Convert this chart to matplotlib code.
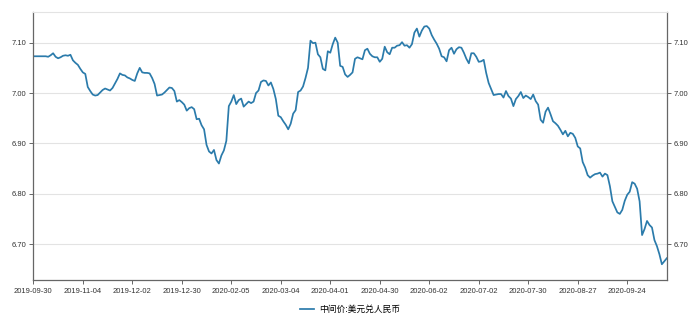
import matplotlib
matplotlib.use("Agg")
import matplotlib.pyplot as plt

# USD/CNY central parity, one value per trading day (2019-09-30 onwards)
series_name = "中间价:美元兑人民币"
rate = [
    7.073, 7.073, 7.073, 7.073, 7.073, 7.073, 7.072, 7.075, 7.079, 7.072,
    7.069, 7.071, 7.074, 7.075, 7.074, 7.076, 7.065, 7.060, 7.056, 7.048,
    7.041, 7.038, 7.012, 7.004, 6.997, 6.995, 6.996, 7.001, 7.006, 7.009,
    7.007, 7.005, 7.010, 7.019, 7.028, 7.039, 7.036, 7.035, 7.031, 7.029,
    7.026, 7.024, 7.039, 7.050, 7.041, 7.040, 7.040, 7.039, 7.030, 7.018,
    6.995, 6.996, 6.997, 7.001, 7.006, 7.011, 7.010, 7.004, 6.983, 6.986,
    6.982, 6.977, 6.965, 6.970, 6.972, 6.968, 6.948, 6.949, 6.936, 6.928,
    6.897, 6.884, 6.880, 6.887, 6.867, 6.860, 6.876, 6.886, 6.905, 6.974,
    6.983, 6.996, 6.978, 6.986, 6.989, 6.973, 6.978, 6.983, 6.980, 6.983,
    7.000, 7.005, 7.022, 7.025, 7.024, 7.015, 7.021, 7.008, 6.988, 6.955,
    6.952, 6.944, 6.937, 6.928, 6.939, 6.959, 6.966, 7.002, 7.005, 7.013,
    7.030, 7.050, 7.104, 7.099, 7.100, 7.077, 7.071, 7.048, 7.045, 7.083,
    7.080, 7.097, 7.110, 7.100, 7.054, 7.052, 7.037, 7.032, 7.036, 7.041,
    7.068, 7.071, 7.069, 7.067, 7.085, 7.088, 7.078, 7.073, 7.071, 7.071,
    7.062, 7.068, 7.092, 7.081, 7.077, 7.090, 7.090, 7.094, 7.095, 7.101,
    7.094, 7.095, 7.090, 7.097, 7.120, 7.128, 7.112, 7.124, 7.132, 7.133,
    7.128, 7.115, 7.106, 7.098, 7.088, 7.073, 7.071, 7.063, 7.085, 7.090,
    7.078, 7.087, 7.091, 7.090, 7.080, 7.068, 7.059, 7.079, 7.079, 7.072,
    7.062, 7.063, 7.066, 7.040, 7.020, 7.008, 6.996, 6.997, 6.998, 6.998,
    6.991, 7.004, 6.994, 6.989, 6.974, 6.988, 6.994, 7.002, 6.990, 6.995,
    6.992, 6.988, 6.997, 6.984, 6.977, 6.947, 6.941, 6.963, 6.971, 6.958,
    6.944, 6.940, 6.935, 6.927, 6.918, 6.925, 6.914, 6.921, 6.919, 6.911,
    6.894, 6.890, 6.863, 6.852, 6.837, 6.832, 6.836, 6.839, 6.840, 6.842,
    6.834, 6.840, 6.837, 6.815, 6.785, 6.774, 6.763, 6.760, 6.768, 6.786,
    6.798, 6.804, 6.823, 6.820, 6.810, 6.785, 6.718, 6.730, 6.746, 6.738,
    6.733, 6.708, 6.696, 6.680, 6.660, 6.666, 6.672,
]
# category axis labels, shown every 20 trading days
tick_labels = [
    "2019-09-30", "2019-11-04", "2019-12-02", "2019-12-30", "2020-02-05",
    "2020-03-04", "2020-04-01", "2020-04-30", "2020-06-02", "2020-07-02",
    "2020-07-30", "2020-08-27", "2020-09-24",
]
tick_step = 20

plt.rcParams["font.family"] = ["Liberation Sans", "Noto Sans CJK SC", "DejaVu Sans"]

fig = plt.figure(figsize=(7, 3.32), dpi=100)
ax = fig.add_axes([0.0476, 0.157, 0.905, 0.807])

x = list(range(len(rate)))
ax.plot(x, rate, color="#2b7bab", lw=1.25, label=series_name)

ax.set_xlim(0, len(rate) - 1)
ax.set_ylim(6.629, 7.161)
ax.set_xticks([i * tick_step for i in range(len(tick_labels))])
ax.set_xticklabels(tick_labels)
ax.set_yticks([6.70, 6.80, 6.90, 7.00, 7.10])
ax.yaxis.set_major_formatter(plt.FuncFormatter(lambda v, p: f"{v:.2f}"))

ax.grid(axis="y", color="#e3e3e3", lw=0.8)
ax.set_axisbelow(True)

for side in ["left", "right", "bottom"]:
    ax.spines[side].set_color("#666666")
    ax.spines[side].set_linewidth(0.9)
ax.spines["top"].set_color("#e3e3e3")
ax.spines["top"].set_linewidth(0.8)

ax.tick_params(axis="y", left=True, right=True, labelleft=True,
               labelright=True, length=3, width=0.7, color="#666666",
               labelsize=5.5, labelcolor="#333333", pad=2)
ax.tick_params(axis="x", length=3, width=0.7, color="#666666",
               labelsize=5.5, labelcolor="#333333", pad=3)

fig.legend(loc="lower center", bbox_to_anchor=(0.5, 0.03), frameon=False,
           fontsize=6.3, handlelength=1.6, handletextpad=0.6)

fig.savefig("out.png", dpi=100)
